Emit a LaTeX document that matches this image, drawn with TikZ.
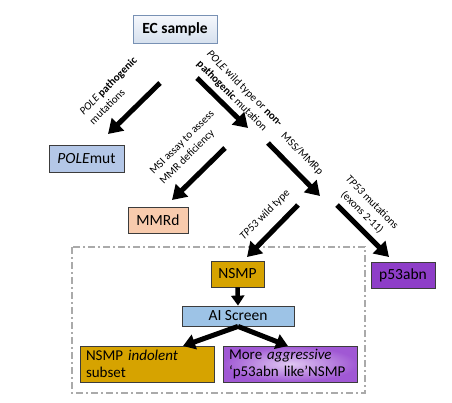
\documentclass[tikz,border=0pt]{standalone}
\usepackage{fontspec}
\setmainfont{Carlito}
\usetikzlibrary{arrows.meta,shadings}
\definecolor{ectop}{RGB}{246,248,252}
\definecolor{ecbot}{RGB}{214,224,238}
\definecolor{ecborder}{RGB}{120,145,180}
\definecolor{polefill}{RGB}{180,199,231}
\definecolor{mmrfill}{RGB}{248,203,173}
\definecolor{nsmpfill}{RGB}{214,163,0}
\definecolor{pfill}{RGB}{142,62,200}
\definecolor{aifill}{RGB}{157,195,230}
\definecolor{agin}{RGB}{224,200,242}
\definecolor{agout}{RGB}{160,88,212}
\definecolor{boxborder}{RGB}{60,60,60}
\definecolor{groupgray}{RGB}{170,170,170}
\begin{document}
\begin{tikzpicture}[x=1pt,y=-1pt,
  box/.style={draw=boxborder, line width=0.8pt, inner sep=0pt, font=\fontsize{15.5}{18}\selectfont},
  lbl/.style={font=\fontsize{11}{14}\selectfont, inner sep=0pt},
  bigarrow/.style={line width=5pt, -{Triangle[width=17pt,length=14pt]}},
  midarrow/.style={line width=5pt, -{Triangle[width=15pt,length=12pt]}},
  smallarrow/.style={line width=4.5pt, -{Triangle[width=13pt,length=10pt]}},
  groupbox/.style={draw=groupgray, line width=1.5pt, dash pattern=on 7pt off 3pt on 2pt off 3pt}
]
\useasboundingbox (0,0) rectangle (452,402);

% dashed group
\draw[groupbox] (72,247) rectangle (365,393);

% boxes
\node[box, draw=ecborder, top color=ectop, bottom color=ecbot, minimum width=84pt, minimum height=28pt, font=\fontsize{15.5}{18}\selectfont\bfseries] (ec) at (175,29) {EC sample};
\node[box, fill=polefill, minimum width=75pt, minimum height=27pt] (pole) at (86.5,158.5) {\textit{POLE}mut};
\node[box, fill=mmrfill, minimum width=60pt, minimum height=26pt] (mmrd) at (158,220) {MMRd};
\node[box, fill=nsmpfill, minimum width=53pt, minimum height=26pt] (nsmp) at (237.5,274) {NSMP};
\node[box, fill=pfill, minimum width=64pt, minimum height=26pt] (p53) at (403,275) {p53abn};
\node[box, fill=aifill, minimum width=112pt, minimum height=20pt] (ai) at (238,316) {AI Screen};
\node[box, fill=nsmpfill, minimum width=134pt, minimum height=36pt, text width=122pt, inner xsep=6pt, align=left, font=\fontsize{15}{17.5}\selectfont] (ind) at (147,364) {NSMP \textit{indolent}\\subset};
\node[box, inner color=agin, outer color=agout, minimum width=134pt, minimum height=36pt, text width=122pt, inner xsep=6pt, align=left, font=\fontsize{15}{17.5}\selectfont] (agg) at (290,364) {More \textit{aggressive}\\‘p53abn like’NSMP};

% arrow end points
\coordinate (a1s) at (160,83);  \coordinate (a1e) at (108,134);
\coordinate (a2s) at (197,78);  \coordinate (a2e) at (248,128);
\coordinate (a3s) at (225,148); \coordinate (a3e) at (172,200);
\coordinate (a4s) at (268,143); \coordinate (a4e) at (320,196);
\coordinate (a5s) at (298,205); \coordinate (a5e) at (247,257);
\coordinate (a6s) at (337,205); \coordinate (a6e) at (389,257);
\coordinate (a8e) at (183,346); \coordinate (a9e) at (288,346);

\draw[bigarrow] (a1s) -- (a1e);
\draw[bigarrow] (a2s) -- (a2e);
\draw[bigarrow] (a3s) -- (a3e);
\draw[bigarrow] (a4s) -- (a4e);
\draw[bigarrow] (a5s) -- (a5e);
\draw[bigarrow] (a6s) -- (a6e);
\draw[smallarrow] (nsmp.south) -- (ai.north);
\draw[midarrow] (ai.south) -- (a8e);
\draw[midarrow] (ai.south) -- (a9e);

% labels
\node[lbl, rotate=45, align=left] (l1) at (113,90.5) {\textit{POLE} \textbf{pathogenic}\\mutations};
\node[lbl, rotate=-45, align=left] (l2) at (239.5,94) {\textit{POLE} wild type or \textbf{non-}\\\textbf{pathogenic} mutation};
\node[lbl, rotate=45, align=left] (l3) at (187.4,147.6) {MSI assay to assess\\MMR deficiency};
\node[lbl, rotate=-45] (l4) at (302,154) {MSS/MMRp};
\node[lbl, rotate=45] (l5) at (265,215) {\textit{TP53} wild type};
\node[lbl, rotate=-45, align=center] (l6) at (367,207.5) {\textit{TP53} mutations\\(exons 2-11)};
\end{tikzpicture}
\end{document}
